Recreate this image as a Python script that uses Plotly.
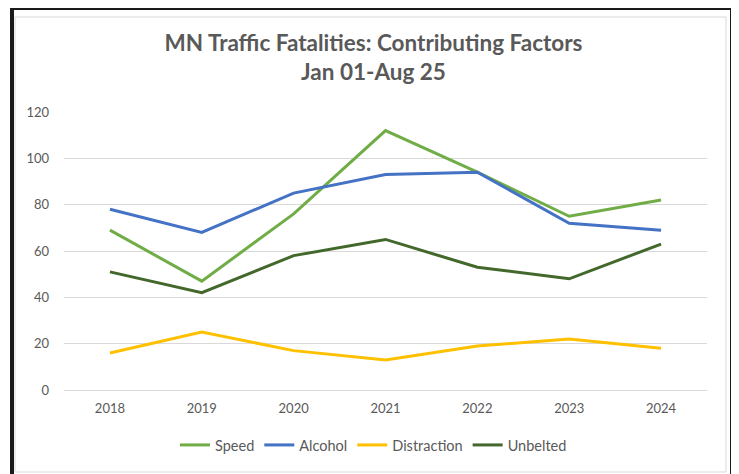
import plotly.graph_objects as go

years = ["2018", "2019", "2020", "2021", "2022", "2023", "2024"]
speed = [69, 47, 76, 112, 94, 75, 82]
alcohol = [78, 68, 85, 93, 94, 72, 69]
distraction = [16, 25, 17, 13, 19, 22, 18]
unbelted = [51, 42, 58, 65, 53, 48, 63]

series = [
    ("Speed", speed, "#70AD47"),
    ("Alcohol", alcohol, "#4472C4"),
    ("Distraction", distraction, "#FFC000"),
    ("Unbelted", unbelted, "#43682B"),
]

# page body has an 8px margin, so the figure is drawn shifted by (8, 8)
OFF = 8
W, H = 739 - OFF, 474 - OFF
# plot area in window pixels: x 64..707, y 112..390
ML, MR, MT, MB = 64 - OFF, W - (707 - OFF), 112 - OFF, H - (390 - OFF)
PW, PH = W - ML - MR, H - MT - MB

def px(x):
    return (x - OFF - ML) / PW

def py(y):
    return (H - MB - (y - OFF)) / PH

fig = go.Figure()
for name, vals, col in series:
    fig.add_trace(go.Scatter(x=years, y=vals, name=name, mode="lines",
                             line=dict(color=col, width=3)))

grey = "#595959"
fig.update_layout(
    width=W, height=H,
    margin=dict(l=ML, r=MR, t=MT, b=MB),
    paper_bgcolor="white", plot_bgcolor="white",
    title=dict(text="<b>MN Traffic Fatalities: Contributing Factors<br>Jan 01-Aug 25</b>",
               xref="container", x=0.5, xanchor="center",
               yref="container", y=1 - 43 / H, yanchor="top",
               font=dict(family="Lato", size=22.5, color=grey)),
    font=dict(family="Lato", size=13, color=grey),
    xaxis=dict(type="category", range=[-0.5, 6.5], showgrid=False, showline=False,
               ticks="", ticklabelstandoff=9, tickfont=dict(size=13, color=grey)),
    yaxis=dict(range=[0, 120], dtick=20, showgrid=True, gridcolor="#D9D9D9", gridwidth=1,
               zeroline=True, zerolinecolor="#D9D9D9", zerolinewidth=1,
               showline=False, ticks="", ticklabelstandoff=14,
               tickfont=dict(size=13, color=grey)),
    legend=dict(orientation="h", xref="container", x=0.5, xanchor="center",
                yref="container", y=1 - (445 - OFF) / H, yanchor="middle",
                font=dict(size=14.5, color=grey), traceorder="normal"),
    shapes=[
        dict(type="rect", xref="paper", yref="paper",
             x0=px(15), x1=px(726), y0=py(472), y1=py(17),
             line=dict(color="#D9D9D9", width=1), layer="below"),
        dict(type="rect", xref="paper", yref="paper",
             x0=px(12), x1=px(732), y0=py(490), y1=py(8),
             line=dict(color="#1a1a1a", width=4), layer="above"),
    ],
)

fig.write_html("out.html")
